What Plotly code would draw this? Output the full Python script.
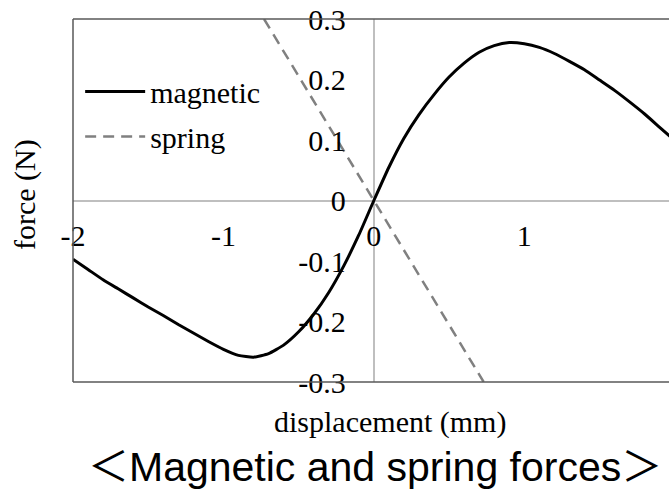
import plotly.graph_objects as go

# ---- data ----
magnetic_x = [-2.0, -1.9, -1.8, -1.7, -1.6, -1.5, -1.4, -1.3, -1.2, -1.1, -1.0,
              -0.9, -0.8, -0.7, -0.6, -0.5, -0.4, -0.3, -0.2, -0.1, 0.0,
              0.1, 0.2, 0.3, 0.4, 0.5, 0.6, 0.7, 0.8, 0.9, 1.0,
              1.1, 1.2, 1.3, 1.4, 1.5, 1.6, 1.7, 1.8, 1.9, 2.0]
magnetic_y = [-0.097, -0.114, -0.131, -0.146, -0.161, -0.176, -0.190, -0.205, -0.219, -0.233, -0.246,
              -0.256, -0.259, -0.253, -0.239, -0.217, -0.188, -0.152, -0.108, -0.057, 0.0,
              0.055, 0.103, 0.142, 0.175, 0.204, 0.227, 0.245, 0.256, 0.261, 0.259,
              0.253, 0.243, 0.230, 0.216, 0.199, 0.182, 0.163, 0.143, 0.121, 0.099]
spring_x = [-0.73, 0.73]
spring_y = [0.3, -0.3]

x_ticks = [-2, -1, 0, 1]
x_tick_text = ["-2", "-1", "0", "1"]
y_ticks = [-0.3, -0.2, -0.1, 0, 0.1, 0.2, 0.3]
y_tick_text = ["-0.3", "-0.2", "-0.1", "0", "0.1", "0.2", "0.3"]

series_names = ["magnetic", "spring"]
x_title = "displacement (mm)"
y_title = "force (N)"
chart_title = "＜Magnetic and spring forces＞"

SERIF = "Liberation Serif, Times New Roman, serif"
SANS = "Liberation Sans, Arial, Noto Sans CJK JP, sans-serif"

W, H = 669, 492
ML, MR, MT, MB = 73, 0, 19, 110
X_RANGE = [-2, 1.962]
Y_RANGE = [-0.3, 0.3]

fig = go.Figure()
fig.add_trace(go.Scatter(
    x=magnetic_x, y=magnetic_y, mode="lines", name=series_names[0],
    line=dict(color="#000000", width=3, shape="spline", smoothing=0.5),
    legendgroup="a", hoverinfo="skip"))
fig.add_trace(go.Scatter(
    x=spring_x, y=spring_y, mode="lines", name=series_names[1],
    line=dict(color="#808080", width=2.5, dash="11px,7px"),
    legendgroup="b", hoverinfo="skip"))

x0_frac = (0 - X_RANGE[0]) / (X_RANGE[1] - X_RANGE[0])
y0_frac = (0 - Y_RANGE[0]) / (Y_RANGE[1] - Y_RANGE[0])

fig.update_layout(
    width=W, height=H,
    margin=dict(l=ML, r=MR, t=MT, b=MB, pad=0),
    paper_bgcolor="white", plot_bgcolor="white",
    font=dict(family=SERIF, size=30, color="#000000"),
    showlegend=True,
    legend=dict(x=0.012, y=0.872, xanchor="left", yanchor="top",
                bgcolor="rgba(0,0,0,0)", font=dict(family=SERIF, size=30),
                itemwidth=60, traceorder="grouped", tracegroupgap=3),
    xaxis=dict(range=X_RANGE, anchor="free", position=y0_frac,
               showgrid=False, showline=False, zeroline=True,
               zerolinecolor="#bfbfbf", zerolinewidth=1.5,
               tickmode="array", tickvals=x_ticks, ticktext=x_tick_text,
               ticks="", ticklabelstandoff=14,
               tickfont=dict(family=SERIF, size=30)),
    yaxis=dict(range=Y_RANGE, anchor="free", position=x0_frac,
               showgrid=False, showline=False, zeroline=True,
               zerolinecolor="#bfbfbf", zerolinewidth=1.5,
               tickmode="array", tickvals=y_ticks, ticktext=y_tick_text,
               ticks="", ticklabelstandoff=28,
               tickfont=dict(family=SERIF, size=30)),
)

# plot-area border (top, left, bottom; right edge falls outside the picture)
border = dict(color="#595959", width=1.5)
fig.add_shape(type="line", xref="paper", yref="paper", x0=0, x1=1, y0=1, y1=1, line=border)
fig.add_shape(type="line", xref="paper", yref="paper", x0=0, x1=1, y0=0, y1=0, line=border)
fig.add_shape(type="line", xref="paper", yref="paper", x0=0, x1=0, y0=0, y1=1, line=border)

pw = W - ML - MR
ph = H - MT - MB

def px(x):
    return (x - ML) / pw

def py(y):
    return (H - MB - y) / ph

fig.add_annotation(text=y_title, xref="paper", yref="paper", x=px(25), y=py(195),
                   xanchor="center", yanchor="middle", textangle=-90, showarrow=False,
                   font=dict(family=SERIF, size=30))
fig.add_annotation(text=x_title, xref="paper", yref="paper", x=px(390), y=py(422),
                   xanchor="center", yanchor="middle", showarrow=False,
                   font=dict(family=SERIF, size=30))
fig.add_annotation(text=chart_title, xref="paper", yref="paper", x=px(375), y=py(467),
                   xanchor="center", yanchor="middle", showarrow=False,
                   font=dict(family=SANS, size=41))

fig.write_html("out.html")
